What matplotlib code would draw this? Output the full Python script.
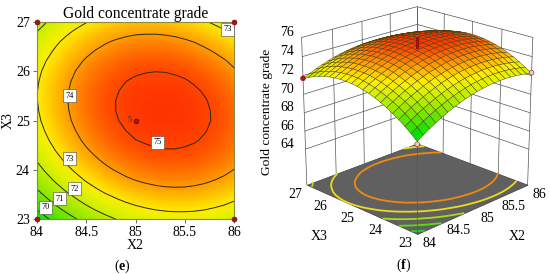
import numpy as np
import matplotlib
matplotlib.use('Agg')
import matplotlib.pyplot as plt
from matplotlib.colors import LinearSegmentedColormap, Normalize
from mpl_toolkits.mplot3d import proj3d
from mpl_toolkits.mplot3d.art3d import Poly3DCollection

plt.rcParams['font.family'] = ['Liberation Serif', 'DejaVu Serif']
plt.rcParams['mathtext.fontset'] = 'custom'
plt.rcParams['mathtext.bf'] = 'Liberation Serif:bold'
plt.rcParams['mathtext.rm'] = 'Liberation Serif'

# X2 and X3 of the mesh
x2 = [84 + 0.1 * i for i in range(21)]
x3 = [23 + 0.2 * i for i in range(21)]

# grade, one row per X3 value
grade = np.array([
    [69.48, 69.89, 70.29, 70.64, 70.97, 71.27, 71.54, 71.78, 71.99, 72.17, 72.33, 72.44, 72.54, 72.60, 72.64, 72.64, 72.62, 72.56, 72.48, 72.37, 72.23],
    [70.02, 70.43, 70.82, 71.17, 71.49, 71.79, 72.05, 72.29, 72.49, 72.67, 72.82, 72.93, 73.02, 73.08, 73.11, 73.11, 73.08, 73.02, 72.93, 72.82, 72.67],
    [70.51, 70.92, 71.30, 71.65, 71.96, 72.26, 72.51, 72.75, 72.94, 73.12, 73.26, 73.37, 73.45, 73.51, 73.53, 73.53, 73.49, 73.43, 73.33, 73.22, 73.06],
    [70.97, 71.37, 71.75, 72.09, 72.40, 72.69, 72.94, 73.17, 73.36, 73.53, 73.67, 73.77, 73.85, 73.90, 73.92, 73.91, 73.87, 73.80, 73.70, 73.58, 73.42],
    [71.37, 71.77, 72.14, 72.48, 72.78, 73.07, 73.31, 73.54, 73.72, 73.89, 74.02, 74.12, 74.19, 74.24, 74.25, 74.24, 74.19, 74.12, 74.01, 73.89, 73.72],
    [71.73, 72.12, 72.49, 72.82, 73.12, 73.40, 73.64, 73.86, 74.04, 74.20, 74.33, 74.42, 74.49, 74.53, 74.54, 74.52, 74.47, 74.39, 74.28, 74.15, 73.98],
    [72.04, 72.43, 72.79, 73.12, 73.41, 73.69, 73.92, 74.14, 74.31, 74.47, 74.59, 74.68, 74.74, 74.78, 74.78, 74.76, 74.70, 74.62, 74.50, 74.37, 74.19],
    [72.31, 72.69, 73.05, 73.37, 73.66, 73.93, 74.16, 74.37, 74.54, 74.69, 74.81, 74.89, 74.95, 74.98, 74.98, 74.95, 74.89, 74.80, 74.68, 74.54, 74.36],
    [72.54, 72.91, 73.27, 73.58, 73.87, 74.13, 74.36, 74.56, 74.73, 74.87, 74.99, 75.06, 75.12, 75.14, 75.14, 75.10, 75.04, 74.94, 74.82, 74.67, 74.49],
    [72.71, 73.08, 73.43, 73.74, 74.02, 74.28, 74.50, 74.70, 74.86, 75.00, 75.11, 75.18, 75.23, 75.25, 75.24, 75.20, 75.13, 75.03, 74.90, 74.75, 74.56],
    [72.85, 73.21, 73.56, 73.86, 74.14, 74.39, 74.61, 74.80, 74.96, 75.09, 75.20, 75.26, 75.31, 75.32, 75.31, 75.26, 75.19, 75.08, 74.95, 74.79, 74.60],
    [72.93, 73.29, 73.63, 73.93, 74.20, 74.45, 74.66, 74.85, 75.00, 75.13, 75.23, 75.29, 75.33, 75.34, 75.32, 75.27, 75.19, 75.08, 74.94, 74.78, 74.58],
    [72.97, 73.33, 73.66, 73.96, 74.22, 74.47, 74.67, 74.86, 75.00, 75.13, 75.22, 75.28, 75.31, 75.32, 75.29, 75.24, 75.15, 75.04, 74.89, 74.73, 74.52],
    [72.97, 73.32, 73.65, 73.94, 74.20, 74.44, 74.64, 74.82, 74.96, 75.08, 75.17, 75.22, 75.25, 75.25, 75.22, 75.16, 75.07, 74.95, 74.80, 74.63, 74.42],
    [72.92, 73.27, 73.59, 73.88, 74.13, 74.37, 74.56, 74.74, 74.87, 74.99, 75.07, 75.12, 75.14, 75.14, 75.10, 75.04, 74.94, 74.82, 74.66, 74.49, 74.27],
    [72.83, 73.17, 73.49, 73.77, 74.02, 74.25, 74.44, 74.61, 74.74, 74.85, 74.93, 74.97, 74.99, 74.98, 74.94, 74.87, 74.77, 74.64, 74.48, 74.30, 74.08],
    [72.68, 73.02, 73.33, 73.61, 73.85, 74.08, 74.26, 74.43, 74.55, 74.66, 74.73, 74.77, 74.78, 74.77, 74.72, 74.65, 74.54, 74.41, 74.24, 74.06, 73.83],
    [72.49, 72.82, 73.13, 73.40, 73.64, 73.86, 74.04, 74.20, 74.32, 74.42, 74.49, 74.52, 74.53, 74.51, 74.46, 74.38, 74.27, 74.13, 73.96, 73.77, 73.54],
    [72.27, 72.59, 72.90, 73.16, 73.40, 73.61, 73.79, 73.94, 74.06, 74.15, 74.22, 74.24, 74.25, 74.22, 74.17, 74.08, 73.97, 73.82, 73.65, 73.45, 73.22],
    [71.99, 72.31, 72.61, 72.87, 73.10, 73.31, 73.48, 73.63, 73.74, 73.83, 73.89, 73.91, 73.91, 73.88, 73.82, 73.73, 73.61, 73.46, 73.28, 73.08, 72.84],
    [71.67, 71.98, 72.28, 72.53, 72.76, 72.96, 73.13, 73.27, 73.38, 73.46, 73.52, 73.53, 73.53, 73.49, 73.43, 73.33, 73.21, 73.05, 72.87, 72.66, 72.42],
])

levels = [70, 71, 72, 73, 74, 75]
floor_levels = [70, 71, 72, 73, 74]
floor_colors = ['#18e018', '#58e010', '#a8dc18', '#ecdc18', '#ee8a10']
# contour labels placed on the lines
label_x2 = [85.93, 84.33, 85.22, 84.33, 84.38, 84.23, 84.09]
label_x3 = [26.85, 25.50, 24.56, 24.23, 23.62, 23.42, 23.24]
label_txt = ['73', '74', '75', '73', '72', '71', '70']
# design points
pts_x2 = [84, 84, 86, 86, 85]
pts_x3 = [23, 27, 23, 27, 25]
pts_z = [69.2, 71.7, 72.3]

x2_ticks = [84, 84.5, 85, 85.5, 86]
x2_labels = ['84', '84.5', '85', '85.5', '86']
x3_ticks = [23, 24, 25, 26, 27]
z_ticks = [64, 66, 68, 70, 72, 74, 76]
z_floor = 60

cmap = LinearSegmentedColormap.from_list('de', [
    (0.0, '#00e000'), (0.28, '#8ce600'), (0.47, '#d2f000'), (0.6, '#fff000'),
    (0.76, '#ffa000'), (0.92, '#ff4a00'), (1.0, '#ff3000')])
norm = Normalize(69.4, 75.4)

fig = plt.figure(figsize=(5.5, 2.74), dpi=100)
W, H = 550, 274

# ---------------- contour (e) ----------------
ax = fig.add_axes([36.7 / W, 1 - 219.3 / H, 197.6 / W, 197.6 / H])
ax.pcolormesh(x2, x3, grade, cmap=cmap, norm=norm, shading='gouraud', rasterized=True)
ax.contour(x2, x3, grade, levels=levels, colors='#2a2a10', linewidths=0.7)
for a, b, t in zip(label_x2, label_x3, label_txt):
    ax.text(a, b, t, fontsize=6, ha='center', va='center', zorder=5,
            bbox=dict(boxstyle='square,pad=0.3', fc='white', ec='#444444', lw=0.4))
ax.scatter(pts_x2, pts_x3, s=13, c='#b01010', edgecolors='#501010', linewidths=0.4, zorder=6, clip_on=False)
ax.text(84.94, 25, '5', fontsize=6, ha='center', va='center', color='#402020')
ax.set_xlim(84, 86)
ax.set_ylim(23, 27)
ax.set_xticks(x2_ticks, x2_labels)
ax.set_yticks(x3_ticks)
ax.tick_params(labelsize=10, length=3, width=0.6, color='#555555', pad=2)
for s in ax.spines.values():
    s.set_color('#8a8a40')
    s.set_linewidth(0.8)
ax.set_xlabel('X2', fontsize=10, labelpad=0)
ax.set_ylabel('X3', fontsize=10, labelpad=1)
ax.set_title('Gold concentrate grade', fontsize=11.2, pad=2.5)
fig.text(122 / W, 1 - 266 / H, r'($\mathbf{e}$)', fontsize=10, ha='center', va='center')

# ---------------- surface (f) ----------------
ax3 = fig.add_axes([276.5 / W, 20.5 / H, 274 / W, 274 / H], projection='3d', computed_zorder=False)
ax3.patch.set_alpha(0)
ax3.set_proj_type('persp', focal_length=0.8)
ax3.view_init(elev=20.5, azim=-135)
ax3.set_box_aspect((1, 1, 0.984), zoom=0.975)
ax3.set_axis_off()
ax3.set_xlim(84, 86)
ax3.set_ylim(23, 27)
ax3.set_zlim(z_floor, 76)

line = dict(color='#555555', lw=0.5, zorder=1)
for z in z_ticks:
    ax3.plot([84, 86, 86], [27, 27, 23], [z, z, z], **line)
for a in x2_ticks:
    ax3.plot([a, a], [27, 27], [z_floor, 76], **line)
for b in x3_ticks:
    ax3.plot([86, 86], [b, b], [z_floor, 76], **line)

floor = Poly3DCollection([[(84, 23, z_floor), (86, 23, z_floor), (86, 27, z_floor), (84, 27, z_floor)]],
                         facecolor='#606060', edgecolor='#404040', linewidths=0.5, zorder=2)
ax3.add_collection3d(floor)
X, Y = np.meshgrid(x2, x3)
ax3.contour(X, Y, grade, levels=floor_levels, offset=z_floor, colors=floor_colors, linewidths=1.3, zorder=3)

ax3.plot([84, 84], [23, 23], [z_floor, 69.5], color='#555555', lw=0.5, zorder=3.2)
ax3.plot_surface(X, Y, grade, facecolors=cmap(norm(grade)), rstride=1, cstride=1, shade=False,
                 edgecolor='#3a3a10', linewidth=0.3, antialiased=True, zorder=4)
ax3.scatter(pts_x2[:3], pts_x3[:3], pts_z, s=12, c=['#f0c8c8', '#c01010', '#f0c8c8'],
            edgecolors='#702020', linewidths=0.4, zorder=5, depthshade=False)
ax3.plot([85, 85], [25, 25], [75.0, 75.9], color='#a01010', lw=2.2, zorder=6)


def place(x, y, z, dx, dy):
    # pixel position of a point of the 3D box, moved by dx, dy pixels
    px, py, _ = proj3d.proj_transform(x, y, z, ax3.get_proj())
    sx, sy = ax3.transData.transform((px, py))
    return (sx + dx) / W, (sy - dy) / H


fig.canvas.draw()
for a, t in zip(x2_ticks, x2_labels):
    u, v = place(a, 23, z_floor, 12, 10)
    fig.text(u, v, t, fontsize=10, ha='center', va='center')
for b in x3_ticks:
    u, v = place(84, b, z_floor, -12, 10)
    fig.text(u, v, str(b), fontsize=10, ha='center', va='center')
for z in z_ticks:
    u, v = place(84, 27, z, 0, -5)
    fig.text(287 / W, v, str(z), fontsize=10, ha='center', va='center')
fig.text(517 / W, 1 - 236 / H, 'X2', fontsize=10, ha='center', va='center')
fig.text(319 / W, 1 - 236 / H, 'X3', fontsize=10, ha='center', va='center')
fig.text(267 / W, 1 - 112 / H, 'Gold concentrate grade', fontsize=9.7, rotation=90, ha='center', va='center')
fig.text(404 / W, 1 - 265 / H, r'($\mathbf{f}$)', fontsize=10, ha='center', va='center')

fig.savefig('out.png', dpi=100)
